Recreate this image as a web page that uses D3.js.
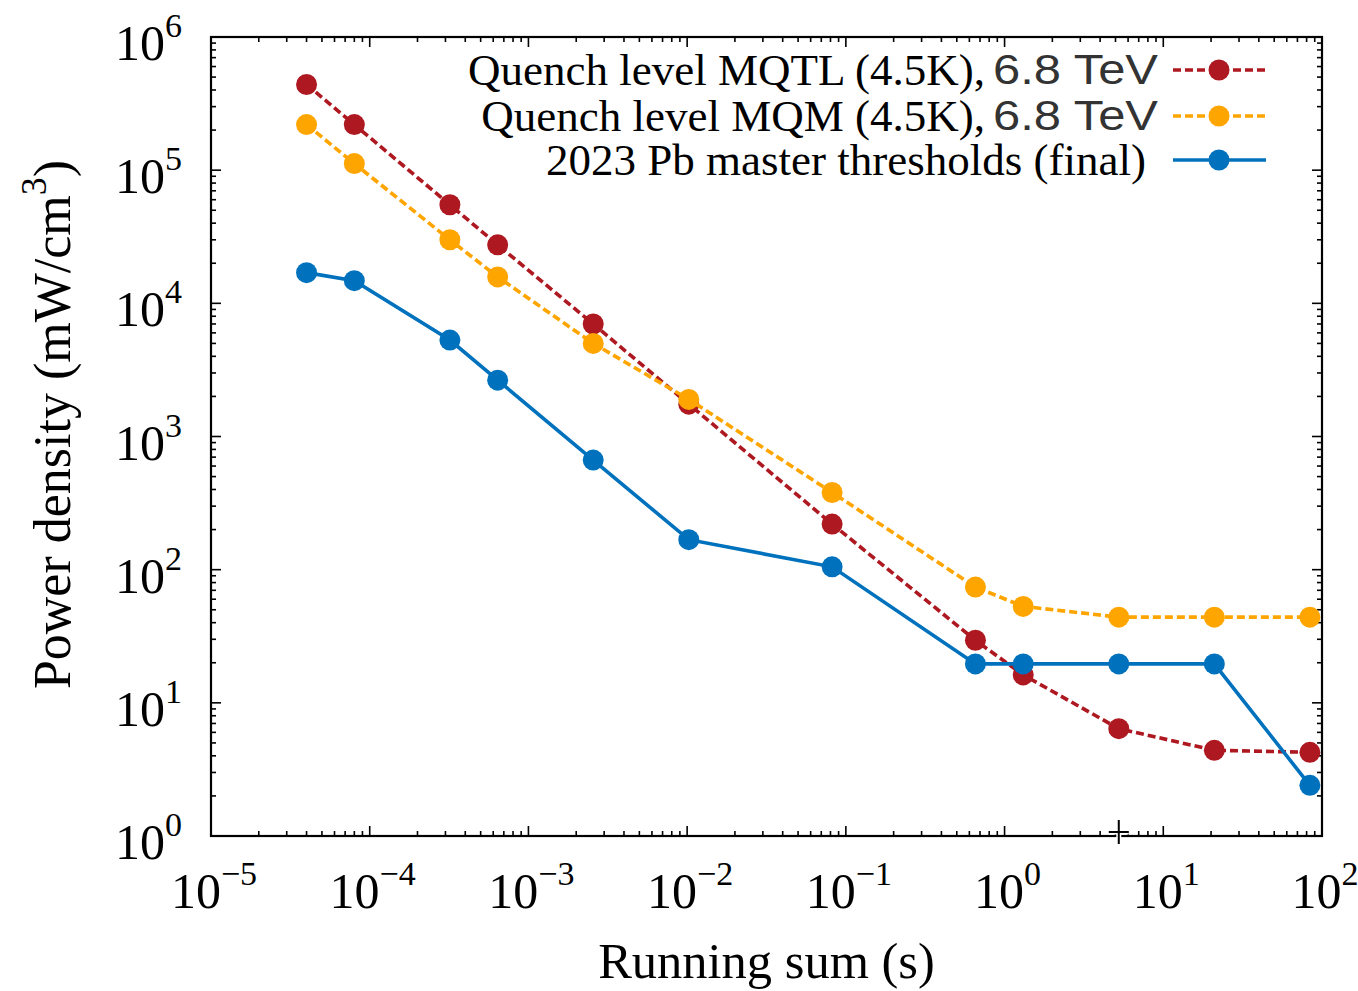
<!DOCTYPE html>
<html>
<head>
<meta charset="utf-8">
<script src="https://cdn.jsdelivr.net/npm/d3@7"></script>
<style>
  html, body { margin: 0; padding: 0; background: #fff; }
  svg { display: block; }
  .serif { font-family: "Liberation Serif", "Times New Roman", serif; }
  .sans { font-family: "Liberation Sans", Arial, sans-serif; }
</style>
</head>
<body>
<svg id="chart" width="1358" height="991"></svg>
<script>
// ---- data ----
const runningSums = [4e-5, 8e-5, 3.2e-4, 6.4e-4, 2.56e-3, 1.024e-2, 8.192e-2, 0.65536, 1.31072, 5.24288, 20.97152, 83.88608];
const quenchMQTL = [4.4e5, 2.2e5, 5.5e4, 2.75e4, 7.0e3, 1.75e3, 220, 29.5, 16.2, 6.4, 4.4, 4.25];
const quenchMQM  = [2.2e5, 1.12e5, 3.0e4, 1.58e4, 5.0e3, 1.9e3, 380, 74, 53, 44, 44, 44];
const pbThresh   = [1.7e4, 1.48e4, 5.3e3, 2.65e3, 665, 168, 105, 19.6, 19.6, 19.6, 19.6, 2.4];
const seriesNames = ["Quench level MQTL (4.5K),", "Quench level MQM (4.5K),", "2023 Pb master thresholds (final)"];
const seriesSuffix = ["6.8 TeV", "6.8 TeV", ""];
const xExponents = [-5, -4, -3, -2, -1, 0, 1, 2];
const yExponents = [0, 1, 2, 3, 4, 5, 6];
const xTitle = "Running sum (s)";
const yTitleMain = "Power density (mW/cm";
const yTitleSup = "3";
const yTitleEnd = ")";
const cursorMark = [5.24288, 1.07];

// ---- layout ----
const M = { left: 211, right: 1322, top: 37, bottom: 836 };
const colors = ["#ae1820", "#ffa500", "#0072bd"];
const dashes = ["8,4", "8,4", null];

const svg = d3.select("#chart");
const x = d3.scaleLog().domain([1e-5, 1e2]).range([M.left, M.right]);
const y = d3.scaleLog().domain([1, 1e6]).range([M.bottom, M.top]);

// minor + major ticks
function logTicks(lo, hi) {
  const out = [];
  for (let e = lo; e < hi; e++) {
    for (let m = 1; m < 10; m++) out.push({ v: m * Math.pow(10, e), major: m === 1 });
  }
  out.push({ v: Math.pow(10, hi), major: true });
  return out;
}
const xt = logTicks(-5, 2), yt = logTicks(0, 6);
const tickG = svg.append("g").attr("stroke", "#000").attr("stroke-width", 1.6);
xt.forEach(t => {
  const L = t.major ? 10 : 5, px = x(t.v);
  tickG.append("line").attr("x1", px).attr("x2", px).attr("y1", M.bottom).attr("y2", M.bottom - L);
  tickG.append("line").attr("x1", px).attr("x2", px).attr("y1", M.top).attr("y2", M.top + L);
});
yt.forEach(t => {
  const L = t.major ? 10 : 5, py = y(t.v);
  tickG.append("line").attr("x1", M.left).attr("x2", M.left + L).attr("y1", py).attr("y2", py);
  tickG.append("line").attr("x1", M.right).attr("x2", M.right - L).attr("y1", py).attr("y2", py);
});

// frame
svg.append("rect").attr("x", M.left).attr("y", M.top)
  .attr("width", M.right - M.left).attr("height", M.bottom - M.top)
  .attr("fill", "none").attr("stroke", "#000").attr("stroke-width", 2.2);

// tick labels
const fmtExp = e => (e < 0 ? "\u2212" + (-e) : String(e));
xExponents.forEach(e => {
  const t = svg.append("text").attr("class", "serif").attr("x", x(Math.pow(10, e)) + 3).attr("y", M.bottom + 72)
    .attr("text-anchor", "middle").attr("font-size", 50).attr("fill", "#000");
  t.append("tspan").text("10");
  t.append("tspan").attr("dy", -23).attr("font-size", 34).text(fmtExp(e));
});
yExponents.forEach(e => {
  const t = svg.append("text").attr("class", "serif").attr("x", 182).attr("y", y(Math.pow(10, e)) + 23)
    .attr("text-anchor", "end").attr("font-size", 50).attr("fill", "#000");
  t.append("tspan").text("10");
  t.append("tspan").attr("dy", -23).attr("font-size", 34).text(fmtExp(e));
});

// axis titles
svg.append("text").attr("class", "serif").attr("x", (M.left + M.right) / 2).attr("y", 978)
  .attr("text-anchor", "middle").attr("font-size", 50.5).attr("fill", "#000").text(xTitle);
const yt2 = svg.append("text").attr("class", "serif")
  .attr("transform", `translate(70, ${(M.top + M.bottom) / 2 - 12}) rotate(-90)`)
  .attr("text-anchor", "middle").attr("font-size", 52).attr("fill", "#000");
yt2.append("tspan").text(yTitleMain);
yt2.append("tspan").attr("dy", -24).attr("font-size", 36).text(yTitleSup);
yt2.append("tspan").attr("dy", 24).text(yTitleEnd);

// series
const allSeries = [quenchMQTL, quenchMQM, pbThresh];
const line = d3.line().x(d => x(d[0])).y(d => y(d[1]));
allSeries.forEach((vals, i) => {
  const pts = runningSums.map((s, j) => [s, vals[j]]);
  const g = svg.append("g");
  g.append("path").attr("d", line(pts)).attr("fill", "none").attr("stroke", colors[i])
    .attr("stroke-width", 3.6).attr("stroke-dasharray", dashes[i]);
  g.selectAll("circle").data(pts).join("circle")
    .attr("cx", d => x(d[0])).attr("cy", d => y(d[1])).attr("r", 10.5).attr("fill", colors[i]);
});

// legend
const rowY = [70, 116, 160];
seriesNames.forEach((name, i) => {
  const cy = rowY[i];
  svg.append("text").attr("class", "serif").attr("x", seriesSuffix[i] ? 985 : 1146).attr("y", cy + 15)
    .attr("text-anchor", "end").attr("font-size", 45).attr("fill", "#000").text(name);
  if (seriesSuffix[i]) {
    svg.append("text").attr("class", "sans").attr("x", 993).attr("y", cy + 14)
      .attr("font-size", 43).attr("fill", "#333").attr("textLength", 165)
      .attr("lengthAdjust", "spacingAndGlyphs").text(seriesSuffix[i]);
  }
  svg.append("line").attr("x1", 1173).attr("x2", 1266).attr("y1", cy).attr("y2", cy)
    .attr("stroke", colors[i]).attr("stroke-width", 3.6).attr("stroke-dasharray", dashes[i]);
  svg.append("circle").attr("cx", 1219).attr("cy", cy).attr("r", 10.5).attr("fill", colors[i]);
});

// cursor crosshair artifact
const cx0 = x(cursorMark[0]), cy0 = y(cursorMark[1]);
const cur = svg.append("g").attr("transform", `translate(${cx0},${cy0})`);
cur.append("path").attr("d", "M-10,0H10M0,-12V12").attr("stroke", "#fff").attr("stroke-width", 5);
cur.append("path").attr("d", "M-10,0H10M0,-12V12").attr("stroke", "#000").attr("stroke-width", 2);
</script>
</body>
</html>
